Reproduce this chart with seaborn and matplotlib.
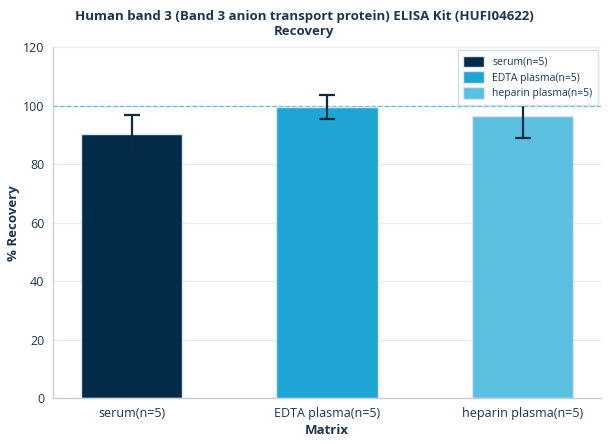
import pandas as pd
import matplotlib
matplotlib.use('Agg')
import matplotlib.pyplot as plt
import seaborn as sns

# Recovery data per matrix
matrix = ['serum(n=5)', 'EDTA plasma(n=5)', 'heparin plasma(n=5)']
recovery = [90.5, 99.7, 96.6]
err = [6.4, 4.1, 7.7]
colors = ['#022b4a', '#1fa5d3', '#5bbfe0']

df = pd.DataFrame({'Matrix': matrix, 'Recovery': recovery})

sns.set_style('white')
plt.rcParams['font.family'] = ['Open Sans', 'DejaVu Sans']
text_col = '#1c3550'

fig = plt.figure(figsize=(6.08, 4.44), dpi=100)
ax = fig.add_axes([0.0877, 0.103, 0.9003, 0.7905])

sns.barplot(data=df, x='Matrix', y='Recovery', hue='Matrix', palette=colors,
            saturation=1, width=0.52, edgecolor='#dde6ee', linewidth=1,
            legend=True, ax=ax, zorder=2)

# Error bars
ax.errorbar(matrix, recovery, yerr=err, fmt='none', ecolor='#0d2a45',
            elinewidth=1.6, capsize=6, capthick=1.6, zorder=3)

# Reference line at 100%
ax.axhline(100, color='#5bbfe0', linestyle='--', linewidth=0.9, zorder=1)

ax.set_ylim(0, 120)
ax.set_xlim(-0.4, 2.4)
ax.set_yticks(range(0, 121, 20))
ax.yaxis.grid(True, color='#e6ecf1', linewidth=1)
ax.set_axisbelow(True)

for s in ['top', 'right']:
    ax.spines[s].set_visible(False)
for s in ['left', 'bottom']:
    ax.spines[s].set_color('#c5d0da')
    ax.spines[s].set_linewidth(1)

ax.tick_params(axis='both', colors='#5a6a7a', labelcolor=text_col,
               labelsize=9, length=3, width=1)

ax.set_xlabel('Matrix', fontsize=9.5, fontweight='bold', color=text_col, labelpad=3)
ax.set_ylabel('% Recovery', fontsize=9.5, fontweight='bold', color=text_col, labelpad=2)

# Title centred on the figure
fig.suptitle('Human band 3 (Band 3 anion transport protein) ELISA Kit (HUFI04622)\nRecovery',
             x=0.5, y=0.978, fontsize=9.5, fontweight='bold', color=text_col,
             linespacing=1.2)

leg = ax.legend(loc='upper right', fontsize=7.5, frameon=True, fancybox=False,
                framealpha=1, borderpad=0.5, handlelength=2.0, handleheight=1.3,
                labelspacing=0.35, borderaxespad=0.3)
leg.get_frame().set_edgecolor('#d5dde5')
for t in leg.get_texts():
    t.set_color(text_col)
leg.set_zorder(5)

plt.savefig('out.png', dpi=100)
